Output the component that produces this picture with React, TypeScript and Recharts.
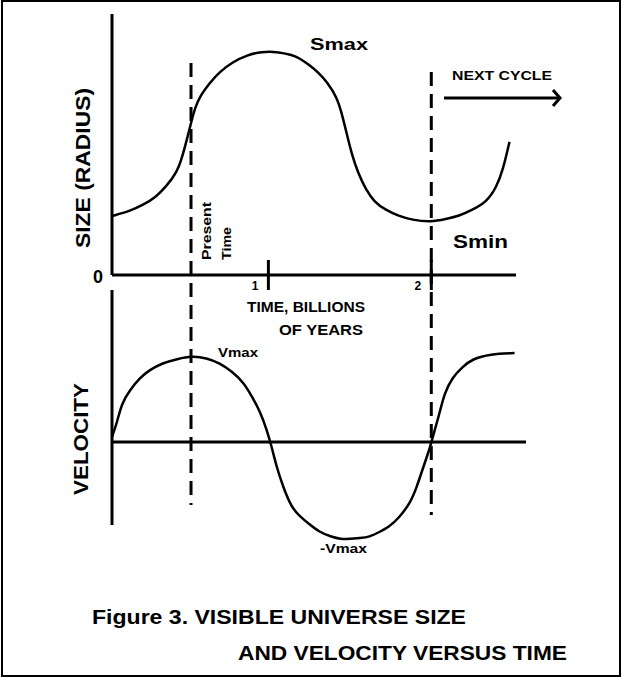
import React from 'react';
import { LineChart, Line, XAxis, YAxis, ReferenceLine } from 'recharts';

// Size (radius) curve: time in billions of years vs relative size
const sizeTime = [0.04, 0.15, 0.23, 0.31, 0.37, 0.44, 0.47, 0.5, 0.53, 0.55, 0.58, 0.64, 0.7, 0.78, 0.87, 0.96, 1.05, 1.15, 1.19, 1.25, 1.31, 1.36, 1.42, 1.45, 1.48, 1.51, 1.55, 1.6, 1.65, 1.72, 1.8, 1.88, 2.0, 2.09, 2.17, 2.25, 2.34, 2.4, 2.44, 2.48];
const sizeValues = [2.26, 2.45, 2.68, 2.99, 3.37, 3.95, 4.5, 5.2, 5.95, 6.4, 6.85, 7.36, 7.78, 8.16, 8.43, 8.56, 8.56, 8.43, 8.31, 8.05, 7.74, 7.39, 6.82, 6.21, 5.44, 4.67, 3.91, 3.26, 2.8, 2.49, 2.26, 2.11, 2.03, 2.15, 2.26, 2.49, 2.8, 3.37, 4.02, 5.1];

// Velocity curve
const velTime = [0.04, 0.07, 0.1, 0.15, 0.21, 0.27, 0.35, 0.44, 0.53, 0.62, 0.7, 0.78, 0.85, 0.9, 0.95, 0.99, 1.02, 1.05, 1.09, 1.14, 1.19, 1.25, 1.31, 1.39, 1.44, 1.5, 1.56, 1.62, 1.68, 1.74, 1.8, 1.87, 1.91, 1.95, 1.98, 2.0, 2.02, 2.05, 2.08, 2.13, 2.19, 2.25, 2.36, 2.51];
const velValues = [0.25, 0.95, 1.95, 2.6, 3.2, 3.6, 3.95, 4.15, 4.3, 4.2, 3.95, 3.5, 2.95, 2.25, 1.5, 0.6, -0.25, -1.25, -2.25, -3.25, -3.7, -4.1, -4.5, -4.75, -4.85, -4.85, -4.8, -4.75, -4.5, -4.25, -3.8, -3.05, -2.25, -1.25, -0.55, 0, 0.6, 1.45, 2.45, 3.25, 3.75, 4.15, 4.4, 4.45];

const timeTicks = [1, 2];
const timeTickLabels = ['1', '2'];
const sizeTicks = [0];
const sizeTickLabels = ['0'];
const presentTime = 0.525;
const cycleEndTime = 2.0;

const sizeData = sizeTime.map((t, i) => ({ t, s: sizeValues[i] }));
const velData = velTime.map((t, i) => ({ t, v: velValues[i] }));

const FONT = '"Liberation Sans", Arial, Helvetica, sans-serif';
const W = 624;
const H = 678;

const TimeTick = (props: any) => {
  const { x, payload } = props;
  const y = 275;
  const idx = timeTicks.indexOf(payload.value);
  return (
    <g>
      <line x1={x} y1={y - 15} x2={x} y2={y + 15} stroke="#000" strokeWidth={3} />
      <text x={x - 10} y={y + 15} textAnchor="end" fontFamily={FONT} fontWeight="bold" fontSize={12} fill="#000">
        {timeTickLabels[idx] ?? String(payload.value)}
      </text>
    </g>
  );
};

const SizeTick = (props: any) => {
  const { y, payload } = props;
  const x = 112;
  const idx = sizeTicks.indexOf(payload.value);
  return (
    <text x={x - 9} y={y + 8} textAnchor="end" fontFamily={FONT} fontWeight="bold" fontSize={18} fill="#000">
      {sizeTickLabels[idx] ?? String(payload.value)}
    </text>
  );
};

const ArrowShape = (p: any) => {
  const { x1, y1, x2, y2 } = p;
  return (
    <g>
      <line x1={x1} y1={y1} x2={x2} y2={y2} stroke="#000" strokeWidth={3} />
      <polyline points={`${x2 - 7},${y2 - 8} ${x2},${y2} ${x2 - 7},${y2 + 8}`} fill="none" stroke="#000" strokeWidth={3} />
    </g>
  );
};

const abs: React.CSSProperties = { position: 'absolute', left: 0, top: 0 };

export default function App() {
  return (
    <div style={{ position: 'absolute', left: 0, top: 0, width: W, height: H, background: '#fff', overflow: 'hidden' }}>
      <div style={{ position: 'absolute', left: 1, top: 0, width: 620, height: 677, border: '2px solid #000', boxSizing: 'border-box' }} />

      {/* Size chart */}
      <div style={abs}>
        <LineChart width={W} height={H} data={sizeData} margin={{ top: 14, right: 108, bottom: 373, left: 72 }}>
          <XAxis
            dataKey="t"
            type="number"
            domain={[0.04, 2.52]}
            ticks={timeTicks}
            height={30}
            axisLine={{ stroke: '#000', strokeWidth: 3 }}
            tickLine={false}
            tick={<TimeTick />}
            interval={0}
          />
          <YAxis
            type="number"
            domain={[0, 10]}
            ticks={sizeTicks}
            width={40}
            axisLine={{ stroke: '#000', strokeWidth: 3 }}
            tickLine={false}
            tick={<SizeTick />}
            interval={0}
          />
          <ReferenceLine
            segment={[{ x: presentTime, y: 8.12 }, { x: presentTime, y: -8.81 }]}
            stroke="#000"
            strokeWidth={3}
            strokeDasharray="14 8"
            ifOverflow="visible"
          />
          <ReferenceLine
            segment={[{ x: cycleEndTime, y: 7.78 }, { x: cycleEndTime, y: -9.2 }]}
            stroke="#000"
            strokeWidth={3}
            strokeDasharray="14 8"
            ifOverflow="visible"
          />
          <ReferenceLine
            segment={[{ x: 2.078, y: 6.78 }, { x: 2.79, y: 6.78 }]}
            ifOverflow="visible"
            shape={<ArrowShape />}
          />
          <Line type="basis" dataKey="s" stroke="#000" strokeWidth={2.5} dot={false} isAnimationActive={false} />
        </LineChart>
      </div>

      {/* Velocity chart */}
      <div style={abs}>
        <LineChart width={W} height={H} data={velData} margin={{ top: 290, right: 98, bottom: 133, left: 112 }}>
          <XAxis dataKey="t" type="number" domain={[0.04, 2.58]} hide />
          <YAxis type="number" domain={[-5.15, 7.6]} hide />
          <ReferenceLine y={0} stroke="#000" strokeWidth={3} ifOverflow="visible" />
          <ReferenceLine
            segment={[{ x: 0.04, y: 7.6 }, { x: 0.04, y: -4.15 }]}
            stroke="#000"
            strokeWidth={3}
            ifOverflow="visible"
          />
          <Line type="basis" dataKey="v" stroke="#000" strokeWidth={2.5} dot={false} isAnimationActive={false} />
        </LineChart>
      </div>

      {/* Annotations */}
      <svg width={W} height={H} style={{ ...abs, pointerEvents: 'none' }} fontFamily={FONT} fill="#000">
        <text x={310} y={50} fontSize={17} fontWeight="bold" textLength={58} lengthAdjust="spacingAndGlyphs">Smax</text>
        <text x={453} y={248} fontSize={18} fontWeight="bold" textLength={55} lengthAdjust="spacingAndGlyphs">Smin</text>
        <text x={452} y={80} fontSize={13} fontWeight="bold" textLength={100} lengthAdjust="spacingAndGlyphs">NEXT CYCLE</text>
        <text transform="translate(90,168) rotate(-90)" textAnchor="middle" fontSize={20} fontWeight="bold" textLength={160} lengthAdjust="spacingAndGlyphs">SIZE (RADIUS)</text>
        <text transform="translate(88,439) rotate(-90)" textAnchor="middle" fontSize={20} fontWeight="bold" textLength={112} lengthAdjust="spacingAndGlyphs">VELOCITY</text>
        <text transform="translate(211,260) rotate(-90)" fontSize={12} fontWeight="bold" textLength={58} lengthAdjust="spacingAndGlyphs">Present</text>
        <text transform="translate(231,260) rotate(-90)" fontSize={12} fontWeight="bold" textLength={33} lengthAdjust="spacingAndGlyphs">Time</text>
        <text x={247} y={312} fontSize={14} fontWeight="bold" textLength={118} lengthAdjust="spacingAndGlyphs">TIME, BILLIONS</text>
        <text x={279} y={335} fontSize={14} fontWeight="bold" textLength={84} lengthAdjust="spacingAndGlyphs">OF YEARS</text>
        <text x={218} y={357} fontSize={12} fontWeight="bold" textLength={40} lengthAdjust="spacingAndGlyphs">Vmax</text>
        <text x={320} y={553} fontSize={12} fontWeight="bold" textLength={47} lengthAdjust="spacingAndGlyphs">-Vmax</text>
        <text x={92} y={624} fontSize={20} fontWeight="bold" textLength={374} lengthAdjust="spacingAndGlyphs">Figure 3.  VISIBLE UNIVERSE SIZE</text>
        <text x={238} y={660} fontSize={20} fontWeight="bold" textLength={329} lengthAdjust="spacingAndGlyphs">AND VELOCITY VERSUS TIME</text>
      </svg>
    </div>
  );
}
